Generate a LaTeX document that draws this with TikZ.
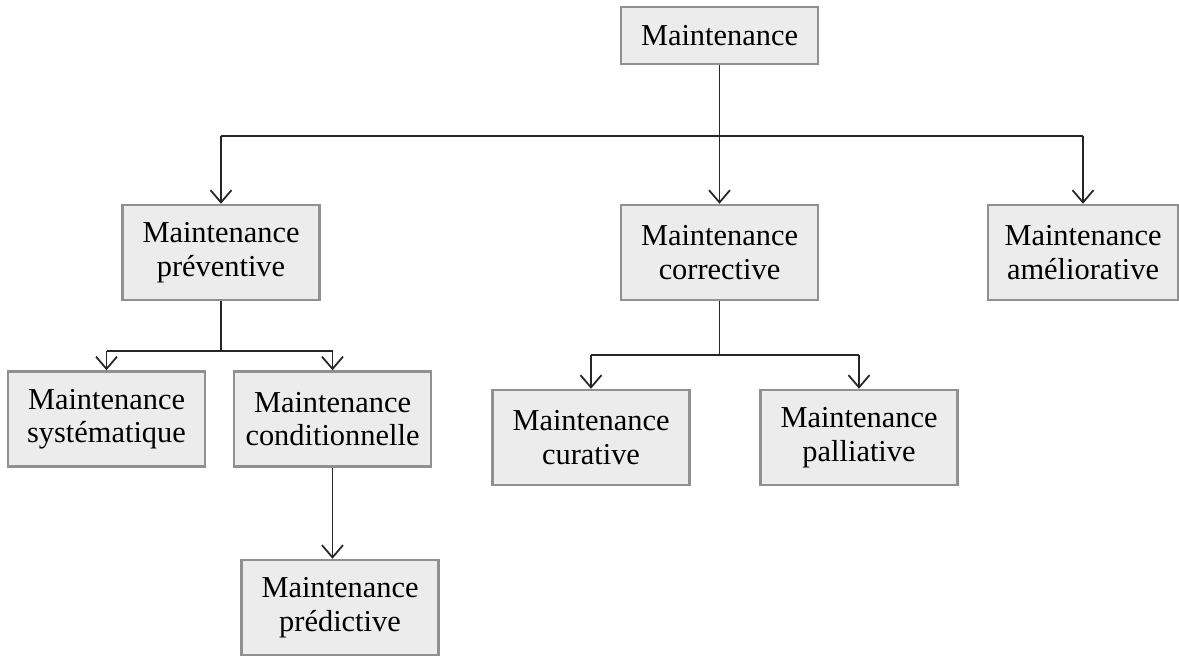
\documentclass[tikz,border=0pt]{standalone}
\usepackage{fontspec}
\setmainfont{Liberation Serif}
\usetikzlibrary{arrows.meta}
\definecolor{boxfill}{HTML}{ECECEC}
\definecolor{boxedge}{HTML}{909090}
\tikzset{
    mbox/.style={draw=boxedge, fill=boxfill, line width=1.4pt, align=center,
        minimum width=3.94cm, minimum height=1.9cm, inner sep=2pt,
        font=\fontsize{17.3}{19}\selectfont},
    arr/.style={-{Straight Barb[length=7pt,width=12pt,line width=1pt]}, line width=1.1pt, black!85},
    ln/.style={line width=1.1pt, black!85}
}
\begin{document}
\begin{tikzpicture}
    \useasboundingbox (0,0) rectangle (23.58,-13.14);

    % boxes
    \node[mbox, minimum height=1.14cm] (root) at (14.39,-0.71) {Maintenance};
    \node[mbox] (prev) at (4.42,-5.05) {Maintenance\\préventive};
    \node[mbox] (corr) at (14.39,-5.05) {Maintenance\\corrective};
    \node[mbox, minimum width=3.8cm] (amel) at (21.66,-5.05) {Maintenance\\améliorative};
    \node[mbox] (syst) at (2.13,-8.38) {Maintenance\\systématique};
    \node[mbox] (cond) at (6.65,-8.38) {Maintenance\\conditionnelle};
    \node[mbox] (cura) at (11.82,-8.75) {Maintenance\\curative};
    \node[mbox] (pall) at (17.18,-8.75) {Maintenance\\palliative};
    \node[mbox] (pred) at (6.80,-12.15) {Maintenance\\prédictive};

    % first level
    \draw[ln] (root.south) -- ++(0,-1.42) coordinate (rootsplit);
    \draw[ln] (rootsplit) -- (rootsplit -| prev.north);
    \draw[ln] (rootsplit) -- (rootsplit -| amel.north);
    \draw[arr] (rootsplit -| prev.north) -- (prev.north);
    \draw[arr] (rootsplit) -- (corr.north);
    \draw[arr] (rootsplit -| amel.north) -- (amel.north);

    % preventive
    \draw[ln] (prev.south) -- ++(0,-1.0) coordinate (prevsplit);
    \draw[ln] (prevsplit -| syst.north) -- (prevsplit -| cond.north);
    \draw[arr] (prevsplit -| syst.north) -- (syst.north);
    \draw[arr] (prevsplit -| cond.north) -- (cond.north);
    \draw[arr] (cond.south) -- (cond.south |- pred.north);

    % corrective
    \draw[ln] (corr.south) -- ++(0,-1.08) coordinate (corrsplit);
    \draw[ln] (corrsplit -| cura.north) -- (corrsplit -| pall.north);
    \draw[arr] (corrsplit -| cura.north) -- (cura.north);
    \draw[arr] (corrsplit -| pall.north) -- (pall.north);
\end{tikzpicture}
\end{document}
